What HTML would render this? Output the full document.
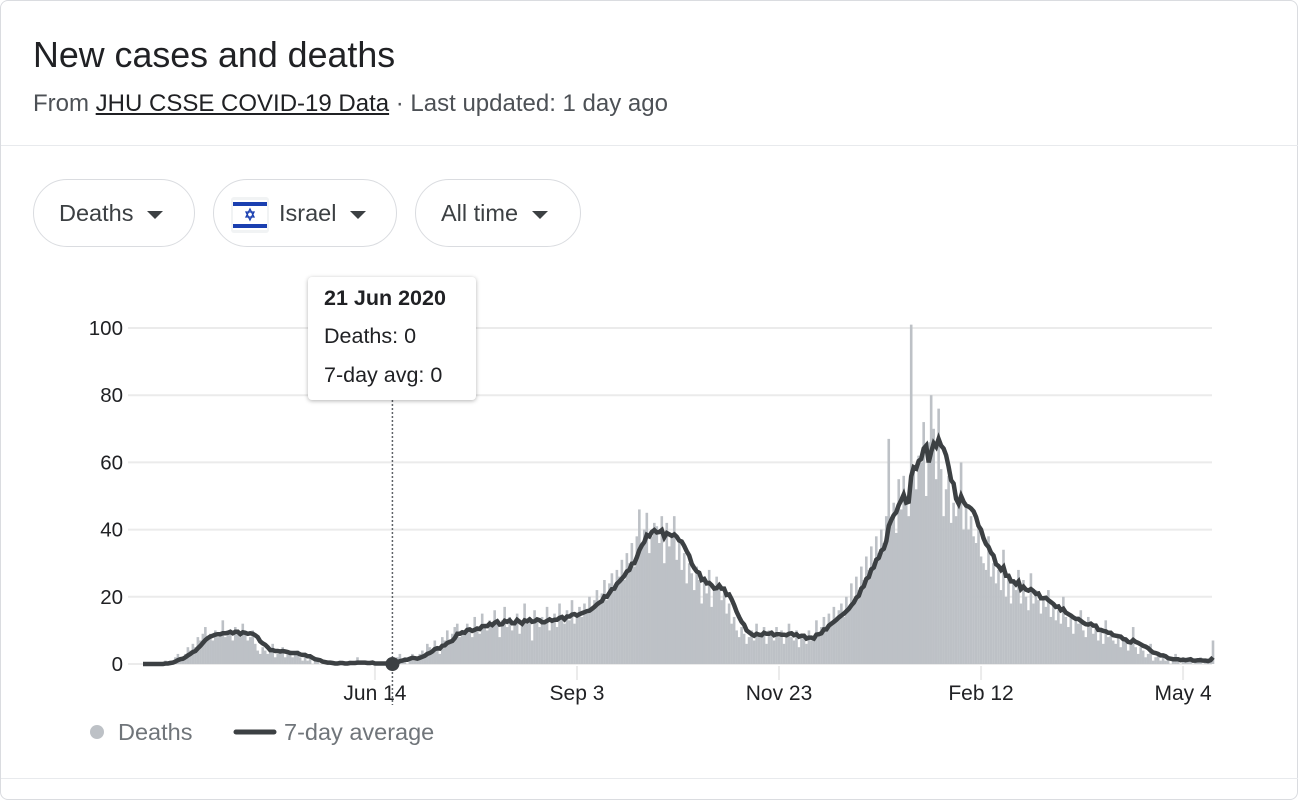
<!DOCTYPE html>
<html><head><meta charset="utf-8">
<style>
body{margin:0;width:1304px;height:786px;background:#fff;font-family:"Liberation Sans",Arial,sans-serif;overflow:hidden;position:relative}
.card{position:absolute;left:0;top:0;width:1298px;height:800px;border:1px solid #dadce0;border-radius:8px;box-sizing:border-box}
.title{position:absolute;left:33px;top:35px;font-size:35.8px;color:#202124}
.sub{position:absolute;left:33px;top:90px;font-size:24px;color:#4d5156;white-space:nowrap}
.sub u{color:#202124}
.div{position:absolute;left:1px;right:6px;height:1px;background:#e8eaed}
.pill{position:absolute;top:179px;height:68px;border:1px solid #dadce0;border-radius:34px;box-sizing:border-box;font-size:23.5px;color:#3c4043;line-height:66px;white-space:nowrap}
.caret{display:inline-block;width:0;height:0;border-left:8px solid transparent;border-right:8px solid transparent;border-top:8px solid #3c4043;vertical-align:middle;margin-left:14px}
.tip{position:absolute;left:308px;top:277px;width:168px;height:123px;background:#fff;border-radius:4px;box-shadow:0 1px 4px rgba(0,0,0,.3);font-size:21.5px;color:#202124;white-space:nowrap}
</style></head><body>
<div class="card"></div>
<div class="title">New cases and deaths</div>
<div class="sub">From <u>JHU CSSE COVID-19 Data</u> · Last updated: 1 day ago</div>
<div class="div" style="top:145px"></div>
<div class="div" style="top:778px"></div>
<div class="pill" style="left:33px;width:162px;padding-left:25px">Deaths<span class="caret"></span></div>
<div class="pill" style="left:213px;width:184px;padding-left:17px"><svg width="38" height="36" style="vertical-align:middle;margin-right:10px"><rect x="0" y="0" width="38" height="36" rx="3" fill="#f1f3f4"/><rect x="2" y="3" width="34" height="30" fill="#fff"/><rect x="2" y="5" width="34" height="4" fill="#1a3fb0"/><rect x="2" y="27" width="34" height="4" fill="#1a3fb0"/><polygon points="19,12 23,20 15,20" fill="none" stroke="#1a3fb0" stroke-width="1.3"/><polygon points="19,23 23,15 15,15" fill="none" stroke="#1a3fb0" stroke-width="1.3"/></svg>Israel<span class="caret"></span></div>
<div class="pill" style="left:415px;width:166px;padding-left:25px">All time<span class="caret"></span></div>
<svg id="chart" width="1304" height="786" style="position:absolute;left:0;top:0"></svg>
<div class="tip">
<div style="position:absolute;left:16px;top:9px;font-weight:bold">21 Jun 2020</div>
<div style="position:absolute;left:16px;top:47px">Deaths: 0</div>
<div style="position:absolute;left:16px;top:86px">7-day avg: 0</div>
</div>
<script>
const deaths=[0,0,0,0,0,0,0,0,0,1,
0,1,1,2,3,2,2,3,5,4,
6,5,8,7,9,11,8,9,7,10,
8,9,13,8,10,9,7,11,9,8,
12,9,7,8,10,6,4,3,5,4,
3,4,6,2,3,4,5,2,3,4,
2,3,4,2,1,3,1,2,0,1,
1,0,0,0,1,0,0,0,0,1,
0,0,0,1,0,0,2,0,0,0,
0,0,1,0,0,0,0,0,0,0,
0,1,2,3,1,2,0,2,3,1,
2,3,4,2,6,5,4,7,5,3,
8,7,10,6,9,11,12,8,10,9,
12,10,8,14,11,9,15,12,10,13,
11,16,12,8,13,17,11,14,10,12,
15,9,13,18,12,14,7,16,13,11,
14,12,17,10,13,15,11,18,14,12,
16,13,19,12,15,17,14,18,15,20,
16,19,22,18,21,25,19,24,27,23,
28,26,31,25,33,30,36,29,38,46,
35,40,45,33,38,42,41,36,44,30,
42,35,39,44,31,36,28,33,24,30,
27,22,29,25,18,26,21,28,17,22,
26,24,19,21,15,18,12,14,10,8,
11,9,6,8,10,7,12,9,8,11,
6,10,9,7,11,8,10,6,9,12,
8,7,10,5,8,9,6,10,7,8,
13,9,11,14,10,15,12,17,13,16,
18,14,20,17,24,19,26,22,29,25,
32,28,35,30,38,33,40,36,44,67,
42,48,39,55,46,56,50,44,101,58,
52,62,60,72,50,66,80,70,55,76,
58,44,52,56,42,48,44,48,60,40,
48,40,44,38,36,42,32,30,28,38,
26,30,24,28,22,34,20,26,18,24,
22,28,18,25,20,16,27,18,22,19,
15,20,17,22,14,18,13,16,12,20,
14,11,15,9,13,12,16,10,8,14,
11,9,12,7,10,6,13,8,9,7,
6,9,5,8,7,4,6,11,5,3,
5,4,2,3,6,1,2,3,1,2,
1,2,0,1,3,1,0,2,1,1,
2,0,1,1,2,0,1,1,2,7];
const yTicks=[0,20,40,60,80,100];
const xLabels=["Jun 14","Sep 3","Nov 23","Feb 12","May 4"];
const xLabelDays=[93,174,255,336,417];
const hoverDay=100;
const NS="http://www.w3.org/2000/svg";
const svg=document.getElementById('chart');
const X0=143,X1=1213,Y0=664,Y1=328;
const xs=i=>X0+i*(X1-X0)/(deaths.length-1);
const ys=v=>Y0-(v/100)*(Y0-Y1);
function mk(t,a){const e=document.createElementNS(NS,t);for(const k in a)e.setAttribute(k,a[k]);svg.appendChild(e);return e;}
yTicks.forEach(v=>{
 const g=mk('line',{x1:128,x2:1212,y1:ys(v),y2:ys(v),stroke:'#ebebeb','stroke-width':2});
 
 
 const t=mk('text',{x:123,y:ys(v)+7,'text-anchor':'end','font-size':20.5,fill:'#202124','font-family':'Liberation Sans, sans-serif'});
 t.textContent=v;
 
 
});
deaths.forEach((v,i)=>{
 const r=mk('rect',{x:xs(i)-1.3,y:ys(v),width:2.6,height:Math.max(0,Y0-ys(v)),fill:'#bdc1c6'});
 
 
});
const avg=deaths.map((v,i)=>{let s=0,n=0;for(let j=Math.max(0,i-6);j<=i;j++){s+=deaths[j];n++;}return s/n;});
const p=mk('path',{d:avg.map((v,i)=>(i?'L':'M')+xs(i).toFixed(1)+' '+ys(v).toFixed(1)).join(''),fill:'none',stroke:'#3c4043','stroke-width':4.5,'stroke-linejoin':'miter'});


xLabels.forEach((l,k)=>{
 const x=xs(xLabelDays[k]);
 const tk=mk('line',{x1:x,x2:x,y1:666,y2:680,stroke:'#ebebeb','stroke-width':2});
 
 
 const t=mk('text',{x:x,y:700,'text-anchor':'middle','font-size':21,fill:'#202124','font-family':'Liberation Sans, sans-serif'});
 t.textContent=l;
 
 
});
const hx=xs(hoverDay);
const hl=mk('line',{x1:hx,x2:hx,y1:400,y2:705,stroke:'#5f6368','stroke-width':1.5,'stroke-dasharray':'2 2'});


const hd=mk('circle',{cx:hx,cy:ys(avg[hoverDay]),r:7,fill:'#3c4043'});


const l1=mk('circle',{cx:97,cy:732,r:7,fill:'#bdc1c6'});


const t1=mk('text',{x:118,y:740,'font-size':23.5,fill:'#70757a','font-family':'Liberation Sans, sans-serif'});
t1.textContent='Deaths';


const l2=mk('line',{x1:236,x2:274,y1:732,y2:732,stroke:'#3c4043','stroke-width':5,'stroke-linecap':'round'});


const t2=mk('text',{x:284,y:740,'font-size':23.5,fill:'#70757a','font-family':'Liberation Sans, sans-serif'});
t2.textContent='7-day average';


</script>
</body></html>
